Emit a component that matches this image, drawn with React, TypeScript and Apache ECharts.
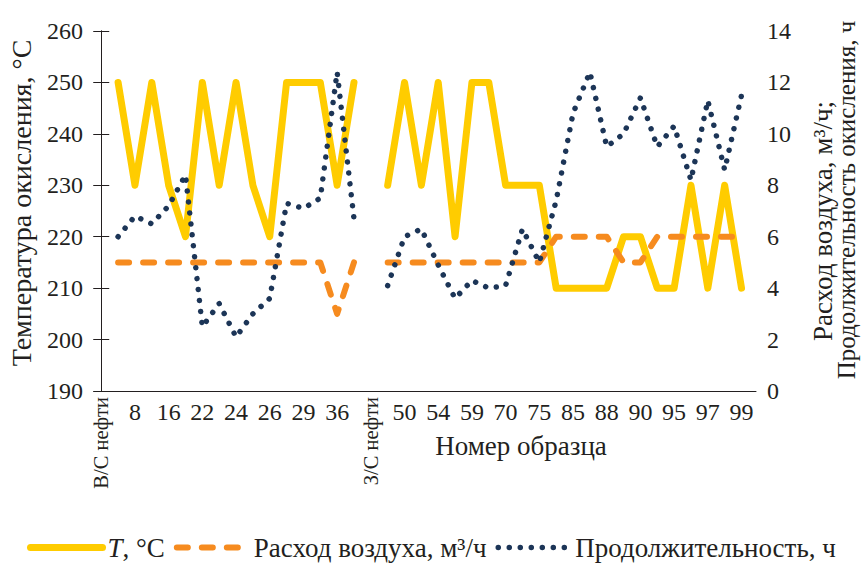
import React, { useEffect, useRef } from "react";
import * as echarts from "echarts";

const categories = [
  "В/С нефти", "", "8", "", "16", "", "22", "", "24", "", "26", "", "29", "", "36", "",
  "З/С нефти", "", "50", "", "54", "", "59", "", "70", "", "75", "", "85", "", "88", "",
  "90", "", "95", "", "97", "", "99",
];

const temperature = [
  null, 250, 230, 250, 230, 220, 250, 230, 250, 230, 220, 250, 250, 250, 230, 250,
  null, 230, 250, 230, 250, 220, 250, 250, 230, 230, 230, 210, 210, 210, 210, 220,
  220, 210, 210, 230, 210, 230, 210,
];

const airFlow = [
  null, 5, 5, 5, 5, 5, 5, 5, 5, 5, 5, 5, 5, 5, 3, 5,
  null, 5, 5, 5, 5, 5, 5, 5, 5, 5, 5, 6, 6, 6, 6, 5,
  5, 6, 6, 6, 6, 6, 6,
];

const duration = [
  null, 6.0, 6.8, 6.5, 7.2, 8.4, 2.5, 3.4, 2.1, 3.0, 3.6, 7.3, 7.1, 7.5, 12.4, 6.7,
  null, 4.1, 6.0, 6.3, 4.9, 3.6, 4.3, 4.0, 4.1, 6.3, 5.0, 7.4, 10.8, 12.4, 9.5, 10.0,
  11.4, 9.5, 10.3, 8.2, 11.3, 8.6, 11.5,
];

const leftTicks = { min: 190, max: 260, interval: 10 };
const rightTicks = { min: 0, max: 14, interval: 2 };

const seriesNames = ["T, °С", "Расход воздуха, м³/ч", "Продолжительность, ч"];
const leftTitle = "Температура окисления, °С";
const rightTitle1 = "Расход воздуха, м³/ч;";
const rightTitle2 = "Продолжительность окисления, ч";
const xTitle = "Номер образца";

const FONT = '"Liberation Serif", "Times New Roman", serif';
const INK = "#231f20";
const YELLOW = "#FFCC00";
const ORANGE = "#F68B1F";
const NAVY = "#1C3557";

const yellowLine = { color: YELLOW, width: 7, cap: "round", join: "round" };
const orangeLine = { color: ORANGE, width: 6, type: [11, 14], cap: "round", join: "round" };
const navyLine = { color: NAVY, width: 5.5, type: [0.01, 11], cap: "round", join: "round" };

const toPairs = (arr: (number | null)[]) => arr.map((v, i) => [i, v]);

const vText = (text: string, x: number, y: number, size: number) => ({
  type: "text",
  x,
  y,
  rotation: Math.PI / 2,
  style: {
    text,
    fontFamily: FONT,
    fontSize: size,
    fill: INK,
    textAlign: "center",
    textVerticalAlign: "middle",
  },
});

export default function App() {
  const ref = useRef<HTMLDivElement>(null);

  useEffect(() => {
    if (!ref.current) return;
    const chart = echarts.init(ref.current, null, { renderer: "svg" });

    const numberIdx = categories
      .map((c, i) => (c !== "" && !c.includes("нефти") ? i : -1))
      .filter((i) => i >= 0);
    const textIdx = categories
      .map((c, i) => (c.includes("нефти") ? i : -1))
      .filter((i) => i >= 0);

    const xCommon = {
      type: "value",
      min: -0.43,
      max: categories.length - 1 + 0.86,
      splitLine: { show: false },
      axisTick: { show: false },
    };

    chart.setOption({
      animation: false,
      backgroundColor: "#ffffff",
      grid: { left: 94, right: 105, top: 31, bottom: 172 },
      xAxis: [
        {
          ...xCommon,
          position: "bottom",
          axisLine: { show: true, onZero: false, lineStyle: { color: INK, width: 1 } },
          axisLabel: {
            customValues: numberIdx,
            formatter: (v: number) => categories[Math.round(v)],
            fontFamily: FONT,
            fontSize: 24,
            color: INK,
            margin: 9,
          },
        },
        {
          ...xCommon,
          position: "bottom",
          axisLine: { show: false },
          axisLabel: {
            customValues: textIdx,
            formatter: (v: number) => categories[Math.round(v)],
            rotate: 90,
            fontFamily: FONT,
            fontSize: 20.5,
            color: INK,
            margin: 6,
          },
        },
      ],
      yAxis: [
        {
          type: "value",
          position: "left",
          ...leftTicks,
          axisLine: { show: true, lineStyle: { color: INK, width: 1 } },
          axisTick: { show: true, inside: true, length: 8, lineStyle: { color: INK } },
          splitLine: { show: false },
          axisLabel: { fontFamily: FONT, fontSize: 24, color: INK, margin: 11 },
        },
        {
          type: "value",
          position: "right",
          ...rightTicks,
          axisLine: { show: true, lineStyle: { color: INK, width: 1 } },
          axisTick: { show: true, inside: true, length: 8, lineStyle: { color: INK } },
          splitLine: { show: false },
          axisLabel: { fontFamily: FONT, fontSize: 24, color: INK, margin: 11 },
        },
      ],
      legend: {
        left: 22,
        top: 529,
        itemWidth: 72,
        itemHeight: 14,
        itemGap: 9,
        data: [
          { name: seriesNames[0], itemStyle: { opacity: 0 }, lineStyle: yellowLine },
          { name: seriesNames[1], itemStyle: { opacity: 0 }, lineStyle: orangeLine },
          { name: seriesNames[2], itemStyle: { opacity: 0 }, lineStyle: navyLine },
        ],
        formatter: (name: string) => (name === seriesNames[0] ? "{i|T}, °С" : name),
        textStyle: {
          fontFamily: FONT,
          fontSize: 27,
          color: INK,
          rich: { i: { fontStyle: "italic", fontFamily: FONT, fontSize: 27, color: INK } },
        },
      },
      graphic: [
        {
          type: "text",
          x: 521,
          y: 446,
          style: {
            text: xTitle,
            fontFamily: FONT,
            fontSize: 27,
            fill: INK,
            textAlign: "center",
            textVerticalAlign: "middle",
          },
        },
        vText(leftTitle, 21, 203, 28),
        vText(rightTitle1, 823, 221, 27),
        vText(rightTitle2, 846, 200, 25),
      ],
      series: [
        {
          name: seriesNames[0],
          type: "line",
          xAxisIndex: 0,
          yAxisIndex: 0,
          data: toPairs(temperature),
          showSymbol: false,
          symbol: "none",
          connectNulls: false,
          lineStyle: yellowLine,
          itemStyle: { color: YELLOW },
          z: 2,
        },
        {
          name: seriesNames[1],
          type: "line",
          xAxisIndex: 0,
          yAxisIndex: 1,
          data: toPairs(airFlow),
          showSymbol: false,
          symbol: "none",
          connectNulls: false,
          lineStyle: orangeLine,
          itemStyle: { color: ORANGE },
          z: 3,
        },
        {
          name: seriesNames[2],
          type: "line",
          xAxisIndex: 0,
          yAxisIndex: 1,
          data: toPairs(duration),
          showSymbol: false,
          symbol: "none",
          connectNulls: false,
          lineStyle: navyLine,
          itemStyle: { color: NAVY },
          z: 4,
        },
      ],
    });

    return () => chart.dispose();
  }, []);

  return <div ref={ref} style={{ width: 861, height: 563, position: "absolute", left: 0, top: 0 }} />;
}
